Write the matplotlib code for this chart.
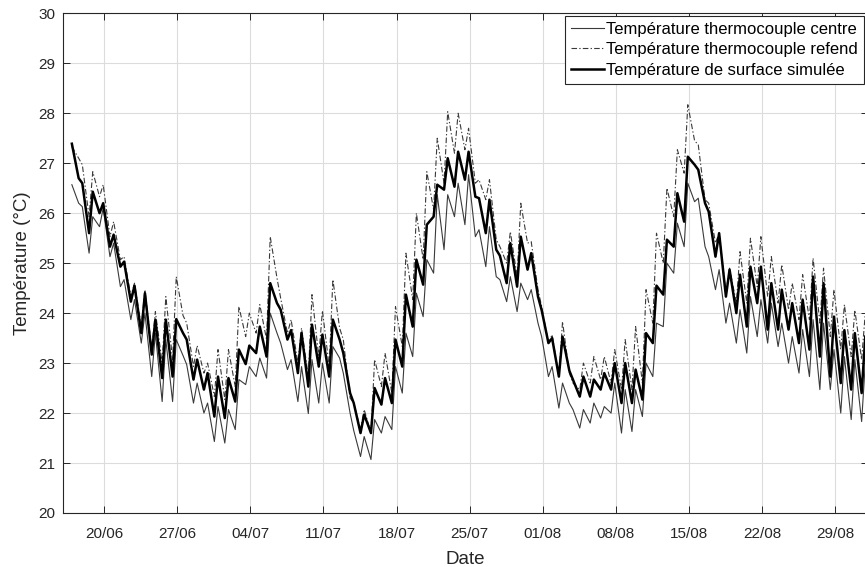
import matplotlib
matplotlib.use("Agg")
import matplotlib.pyplot as plt
from datetime import datetime, timedelta

# ---------------- data ----------------
start_date = datetime(2019, 6, 16)
# daily maxima (day k = 0..76, late in the day) and daily minima (day k = 1..76, around midday)
centre_max = [26.57, 26.13, 25.93, 26.10, 25.40, 24.67, 24.27, 24.00, 23.60, 23.47,
              23.47, 22.97, 22.60, 22.20, 22.13, 22.07, 22.67, 22.93, 23.10, 24.00,
              23.40, 23.07, 22.93, 23.07, 23.00, 23.33, 22.80, 21.65, 21.53, 21.87,
              21.93, 22.93, 23.60, 24.40, 25.07, 26.37, 26.37, 26.60, 26.77, 25.67,
              25.73, 24.67, 24.73, 24.60, 24.47, 23.53, 22.93, 22.60, 22.07, 22.07,
              22.20, 22.13, 22.60, 22.47, 22.47, 23.00, 23.80, 25.00, 25.80, 26.60,
              26.30, 25.13, 24.87, 24.20, 24.07, 24.33, 24.27, 24.20, 23.80, 23.53,
              23.67, 23.87, 23.80, 23.27, 23.13, 23.07, 23.00]
centre_min = [26.20, 25.20, 25.73, 25.13, 24.53, 23.87, 23.40, 22.73, 22.23, 22.23,
              23.15, 22.20, 22.00, 21.43, 21.40, 21.67, 22.57, 22.73, 22.70, 23.60,
              22.87, 22.23, 21.99, 22.20, 22.20, 23.10, 22.00, 21.13, 21.07, 21.60,
              21.67, 22.40, 23.13, 23.93, 24.80, 25.27, 25.93, 25.77, 25.53, 24.93,
              24.73, 24.23, 24.03, 24.27, 23.80, 22.73, 22.10, 22.20, 21.70, 21.80,
              21.90, 22.00, 21.60, 21.63, 21.93, 22.73, 23.73, 24.80, 25.33, 26.23,
              25.33, 24.47, 23.80, 23.40, 23.20, 23.53, 23.40, 23.33, 23.00, 22.80,
              22.73, 22.47, 22.47, 22.00, 21.87, 21.83]

refend_max = [27.33, 26.97, 26.83, 26.57, 25.83, 25.13, 24.60, 24.47, 24.03, 24.33,
              24.73, 23.80, 23.35, 23.00, 23.27, 23.27, 24.13, 24.00, 24.17, 25.53,
              24.30, 23.87, 23.70, 24.37, 24.05, 24.67, 23.47, 22.20, 22.07, 23.07,
              23.20, 24.13, 25.20, 26.00, 26.83, 27.50, 28.03, 28.00, 27.70, 26.67,
              26.67, 25.33, 25.63, 26.20, 25.43, 24.13, 23.57, 23.83, 22.60, 23.00,
              23.13, 23.13, 23.27, 23.47, 23.73, 24.47, 25.60, 26.50, 27.27, 28.17,
              27.37, 26.20, 25.60, 24.90, 25.23, 25.50, 25.53, 25.13, 24.97, 24.60,
              24.77, 25.10, 24.90, 24.47, 24.17, 24.06, 24.00]
refend_min = [27.10, 25.93, 26.33, 25.53, 25.07, 24.33, 23.73, 23.27, 23.00, 23.07,
              23.95, 22.93, 22.80, 22.33, 22.27, 22.53, 23.53, 23.60, 23.47, 24.70,
              23.60, 23.00, 22.73, 23.13, 22.93, 23.70, 22.30, 21.67, 21.60, 22.53,
              22.40, 23.33, 24.27, 25.07, 26.07, 26.60, 27.20, 27.27, 26.60, 26.27,
              25.47, 25.00, 24.73, 25.40, 24.47, 23.40, 22.73, 22.80, 22.47, 22.60,
              22.67, 22.60, 22.47, 22.47, 22.60, 23.80, 25.00, 25.93, 26.80, 27.45,
              26.27, 25.40, 24.40, 24.20, 24.20, 24.53, 24.33, 24.20, 24.07, 23.87,
              23.87, 23.80, 23.53, 23.27, 23.13, 23.07]

surface_max = [27.39, 26.60, 26.43, 26.20, 25.57, 25.03, 24.55, 24.40, 23.87, 23.87,
               23.88, 23.47, 23.07, 22.80, 22.73, 22.70, 23.27, 23.35, 23.73, 24.60,
               24.07, 23.66, 23.60, 23.77, 23.57, 23.87, 23.20, 22.20, 21.97, 22.50,
               22.70, 23.47, 24.37, 25.07, 25.77, 26.57, 27.10, 27.23, 27.23, 26.30,
               26.27, 25.15, 25.40, 25.53, 25.20, 24.06, 23.50, 23.53, 22.67, 22.73,
               22.67, 22.80, 23.00, 23.00, 22.87, 23.60, 24.55, 25.47, 26.40, 27.13,
               26.87, 26.03, 25.60, 24.87, 24.77, 24.93, 24.93, 24.60, 24.47, 24.20,
               24.27, 24.73, 24.60, 23.93, 23.66, 23.60, 23.53]
surface_min = [26.70, 25.60, 26.00, 25.33, 24.93, 24.23, 23.60, 23.17, 22.70, 22.73,
               23.60, 22.67, 22.47, 21.93, 21.90, 22.23, 22.98, 23.20, 23.13, 24.20,
               23.47, 22.80, 22.53, 22.93, 22.73, 23.47, 22.40, 21.60, 21.60, 22.17,
               22.20, 22.93, 23.73, 24.57, 25.93, 26.47, 26.53, 26.67, 26.33, 25.60,
               25.27, 24.60, 24.53, 24.87, 24.33, 23.40, 22.73, 22.85, 22.33, 22.33,
               22.47, 22.47, 22.20, 22.20, 22.27, 23.40, 24.37, 25.33, 25.83, 26.97,
               26.20, 25.13, 24.33, 24.00, 23.73, 24.20, 23.67, 23.67, 23.67, 23.40,
               23.27, 23.13, 22.73, 22.60, 22.47, 22.40]

tick_dates = ["20/06", "27/06", "04/07", "11/07", "18/07", "25/07",
              "01/08", "08/08", "15/08", "22/08", "29/08"]
y_ticks = [20, 21, 22, 23, 24, 25, 26, 27, 28, 29, 30]
labels = ["Température thermocouple centre",
          "Température thermocouple refend",
          "Température de surface simulée"]


def build(peaks, troughs):
    t = [start_date + timedelta(days=0.9)]
    v = [peaks[0]]
    for k in range(1, len(peaks)):
        t.append(start_date + timedelta(days=k + 0.55))
        v.append(troughs[k - 1])
        t.append(start_date + timedelta(days=k + 0.9))
        v.append(peaks[k])
    return t, v


plt.rcParams["font.family"] = ["Liberation Sans", "DejaVu Sans"]

W, H = 865, 567
fig = plt.figure(figsize=(W / 100, H / 100), dpi=100)
x_left, x_right = 63.3, 868.0
y_top, y_bot = 13.3, 513.0
ax = fig.add_axes([x_left / W, 1 - y_bot / H, (x_right - x_left) / W, (y_bot - y_top) / H])

tc, vc = build(centre_max, centre_min)
tr, vr = build(refend_max, refend_min)
ts, vs = build(surface_max, surface_min)

ax.plot(tc, vc, color="#3a3a3a", lw=0.8, label=labels[0])
ax.plot(tr, vr, color="#3a3a3a", lw=0.8, dashes=(5, 2, 1.2, 2), label=labels[1])
ax.plot(ts, vs, color="black", lw=1.8, label=labels[2])

ax.set_xlim(start_date + timedelta(days=0.08), start_date + timedelta(days=77.16))
ax.set_ylim(20, 30)
ax.set_yticks(y_ticks)
tick_pos = [datetime.strptime(s + "/2019", "%d/%m/%Y") for s in tick_dates]
ax.set_xticks(tick_pos)
ax.set_xticklabels(tick_dates)

ax.grid(True, color="#dcdcdc", lw=0.8)
ax.set_axisbelow(True)
ax.tick_params(direction="in", length=5, width=0.7, top=True, right=True,
               labelsize=11, colors="#262626", pad=6)
ax.tick_params(axis="x", pad=10)
for s in ax.spines.values():
    s.set_color("#262626")
    s.set_linewidth(0.8)

ax.set_xlabel("Date", fontsize=13.5, color="#262626", labelpad=7)
ax.set_ylabel("Température (°C)", fontsize=13.5, color="#262626", labelpad=5)

leg = fig.legend(loc="upper left", bbox_to_anchor=(565 / W, 1 - 16 / H),
                 fontsize=12, frameon=True, fancybox=False, edgecolor="#262626",
                 framealpha=1, handlelength=2.0, handletextpad=0.12,
                 labelspacing=0.33, borderpad=0.35, borderaxespad=0)
leg.get_frame().set_linewidth(0.8)

fig.savefig("out.png", dpi=100)
